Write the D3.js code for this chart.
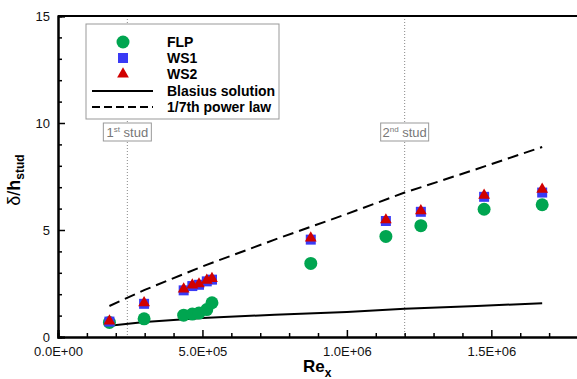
<!DOCTYPE html>
<html lang="en">
<head>
  <meta charset="UTF-8">
  <title>delta over h_stud</title>
  <style>
    body { margin: 0; background: #fff; }
    text { font-family: "Liberation Sans", Arial, sans-serif; }
  </style>
</head>
<body>
  <svg id="svg" width="577" height="379"></svg>
  <script src="https://cdn.jsdelivr.net/npm/d3@7"></script>
  <script>
    // measured points
    const reX = [1.78e5, 2.98e5, 4.35e5, 4.65e5, 4.88e5, 5.15e5, 5.33e5, 8.75e5, 1.135e6, 1.256e6, 1.475e6, 1.676e6]
    const flp = [0.68, 0.85, 1.02, 1.07, 1.12, 1.28, 1.6, 3.44, 4.7, 5.2, 5.97, 6.18]
    const ws1 = [0.72, 1.55, 2.18, 2.38, 2.44, 2.6, 2.68, 4.55, 5.42, 5.85, 6.55, 6.75]
    const ws2 = [0.74, 1.6, 2.24, 2.43, 2.48, 2.65, 2.73, 4.62, 5.47, 5.9, 6.62, 6.9]

    // reference curves
    const blasiusRe = [1.78e5, 3e5, 5e5, 7.5e5, 1e6, 1.2e6, 1.45e6, 1.676e6]
    const blasius = [0.53, 0.7, 0.89, 1.04, 1.17, 1.32, 1.45, 1.58]
    const powerRe = [1.78e5, 3e5, 5e5, 7.5e5, 1e6, 1.2e6, 1.45e6, 1.676e6]
    const power = [1.45, 2.2, 3.3, 4.55, 5.75, 6.75, 7.85, 8.88]

    // stud positions
    const studRe = [2.4e5, 1.2e6]
    const studLabel = [['1', 'st'], ['2', 'nd']]

    const xMajor = [0, 5e5, 1e6, 1.5e6]
    const yMajor = [0, 5, 10, 15]

    const svg = d3.select('#svg')
    const mLeft = 58, mRight = 578, mTop = 16, mBottom = 337

    const x = d3.scaleLinear().domain([0, 1.8e6]).range([mLeft, mRight])
    const y = d3.scaleLinear().domain([0, 15]).range([mBottom, mTop])

    // "5.0E+05" style labels
    const sci = v => {
      if (v === 0) return '0.0E+00'
      const e = Math.floor(Math.log10(v))
      const m = v / Math.pow(10, e)
      return m.toFixed(1) + 'E+' + String(e).padStart(2, '0')
    }

    // stud lines (behind everything)
    svg.selectAll('.stud')
      .data(studRe)
      .join('line')
      .attr('x1', d => x(d)).attr('x2', d => x(d))
      .attr('y1', mTop).attr('y2', mBottom)
      .attr('stroke', '#888')
      .attr('stroke-width', 1)
      .attr('stroke-dasharray', '1,2')

    // axes
    const xMinor = d3.range(1e5, 1.8e6, 1e5).filter(v => v % 5e5 !== 0)
    const yMinor = d3.range(1, 15).filter(v => v % 5 !== 0)

    const gx = svg.append('g').attr('transform', `translate(0,${mBottom})`)
    gx.call(d3.axisBottom(x).tickValues(xMajor).tickFormat(sci).tickSize(-7).tickPadding(10))
    gx.append('g').call(d3.axisBottom(x).tickValues(xMinor).tickFormat('').tickSize(-4))
    gx.selectAll('.domain').attr('stroke-width', 2)
    gx.selectAll('line').attr('stroke', '#000').attr('stroke-width', 1.5)
    gx.selectAll('text').attr('font-size', 13).attr('fill', '#111')
      .attr('font-family', '"Liberation Sans", Arial, sans-serif')

    const gy = svg.append('g').attr('transform', `translate(${mLeft},0)`)
    gy.call(d3.axisLeft(y).tickValues(yMajor).tickFormat(d3.format('d')).tickSize(-7).tickPadding(8))
    gy.append('g').call(d3.axisLeft(y).tickValues(yMinor).tickFormat('').tickSize(-4))
    gy.selectAll('.domain').attr('stroke-width', 2)
    gy.selectAll('line').attr('stroke', '#000').attr('stroke-width', 1.5)
    gy.selectAll('text').attr('font-size', 13).attr('fill', '#111')
      .attr('font-family', '"Liberation Sans", Arial, sans-serif')

    // top frame line
    svg.append('line')
      .attr('x1', mLeft).attr('x2', mRight).attr('y1', mTop).attr('y2', mTop)
      .attr('stroke', '#000').attr('stroke-width', 2)

    // stud label boxes
    const studG = svg.selectAll('.studlab')
      .data(studRe)
      .join('g')
      .attr('transform', d => `translate(${x(d)},132)`)
    studG.append('rect')
      .attr('x', -24).attr('y', -9).attr('width', 48).attr('height', 18)
      .attr('fill', '#fff').attr('stroke', '#999').attr('stroke-width', 1)
    const studT = studG.append('text')
      .attr('text-anchor', 'middle').attr('y', 5)
      .attr('font-size', 13).attr('fill', '#777')
    studT.append('tspan').text((d, i) => studLabel[i][0])
    studT.append('tspan').attr('font-size', 8).attr('dy', -5).text((d, i) => studLabel[i][1])
    studT.append('tspan').attr('dy', 5).text(' stud')

    // reference curves
    const line = d3.line().x(d => x(d[0])).y(d => y(d[1]))
    svg.append('path')
      .attr('d', line(d3.zip(blasiusRe, blasius)))
      .attr('fill', 'none').attr('stroke', '#000').attr('stroke-width', 2)
    svg.append('path')
      .attr('d', line(d3.zip(powerRe, power)))
      .attr('fill', 'none').attr('stroke', '#000').attr('stroke-width', 2)
      .attr('stroke-dasharray', '11,6')

    // markers
    const green = '#00a550', blue = '#3a3af5', red = '#d10000'
    const sqr = d3.symbol().type(d3.symbolSquare).size(100)
    const tri = d3.symbol().type(d3.symbolTriangle).size(60)

    svg.append('g').selectAll('circle')
      .data(d3.zip(reX, flp))
      .join('circle')
      .attr('cx', d => x(d[0])).attr('cy', d => y(d[1]))
      .attr('r', 6.5).attr('fill', green)

    svg.append('g').selectAll('path')
      .data(d3.zip(reX, ws1))
      .join('path')
      .attr('d', sqr)
      .attr('transform', d => `translate(${x(d[0])},${y(d[1])})`)
      .attr('fill', blue)

    svg.append('g').selectAll('path')
      .data(d3.zip(reX, ws2))
      .join('path')
      .attr('d', tri)
      .attr('transform', d => `translate(${x(d[0])},${y(d[1])})`)
      .attr('fill', red)

    // legend
    const lg = svg.append('g')
    lg.append('rect')
      .attr('x', 86).attr('y', 24).attr('width', 193).attr('height', 95)
      .attr('fill', '#fff').attr('stroke', '#999').attr('stroke-width', 1)
    const legendNames = ['FLP', 'WS1', 'WS2', 'Blasius solution', '1/7th power law']
    const legendY = [42, 58, 74, 91, 107]
    legendNames.forEach((name, i) => {
      const ly = legendY[i]
      if (i === 0) lg.append('circle').attr('cx', 123).attr('cy', ly).attr('r', 6.5).attr('fill', green)
      if (i === 1) lg.append('path').attr('d', sqr).attr('transform', `translate(123,${ly})`).attr('fill', blue)
      if (i === 2) lg.append('path').attr('d', tri).attr('transform', `translate(123,${ly})`).attr('fill', red)
      if (i >= 3) {
        lg.append('line').attr('x1', 92).attr('x2', 153).attr('y1', ly).attr('y2', ly)
          .attr('stroke', '#000').attr('stroke-width', 2)
          .attr('stroke-dasharray', i === 4 ? '8,4' : null)
      }
      lg.append('text').attr('x', 167).attr('y', ly + 5)
        .attr('font-size', 14).attr('font-weight', 'bold').text(name)
    })

    // axis titles
    const xt = svg.append('text').attr('x', 303).attr('y', 372)
      .attr('font-size', 17).attr('font-weight', 'bold')
    xt.append('tspan').text('Re')
    xt.append('tspan').attr('font-size', 12).attr('dy', 5).text('x')

    const yt = svg.append('text')
      .attr('transform', 'translate(20,180) rotate(-90)')
      .attr('text-anchor', 'middle').attr('font-size', 18)
    yt.append('tspan').text('δ/')
    yt.append('tspan').attr('font-weight', 'bold').text('h')
    yt.append('tspan').attr('font-weight', 'bold').attr('font-size', 12).attr('dy', 4).text('stud')
  </script>
</body>
</html>
